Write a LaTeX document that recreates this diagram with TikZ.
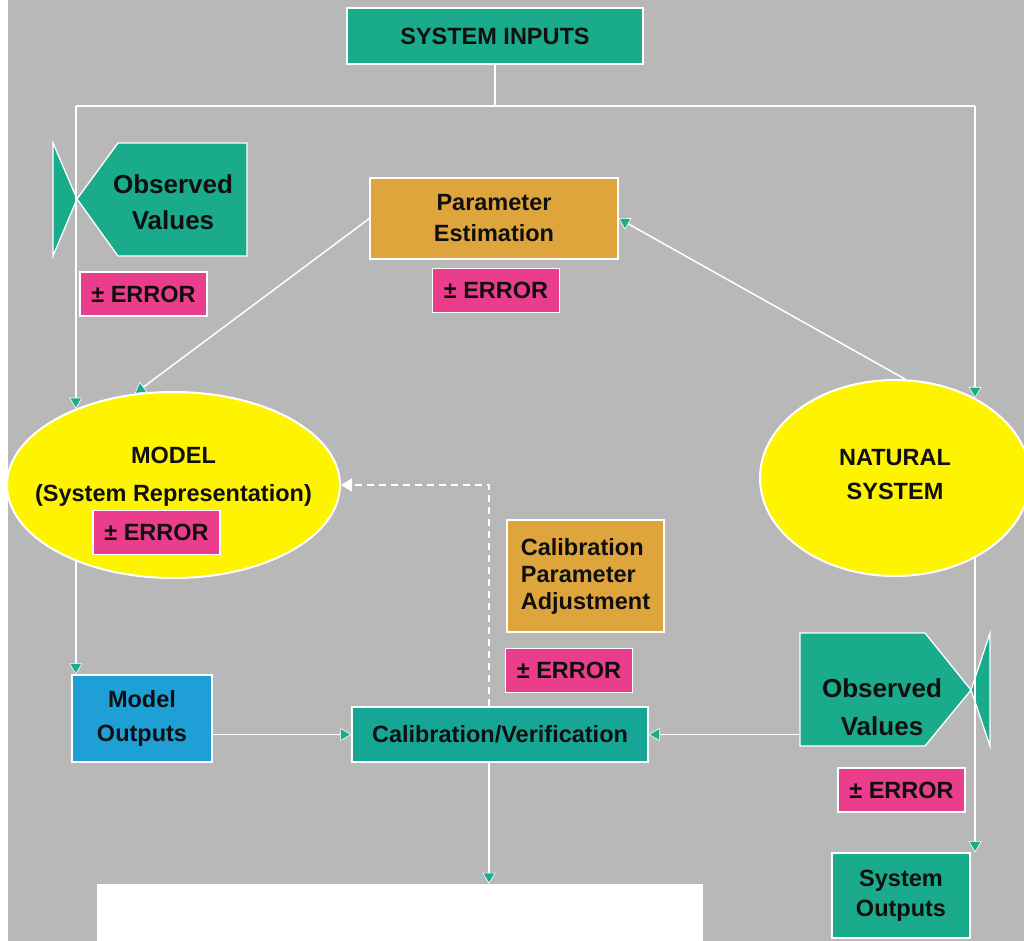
\documentclass[tikz,border=0pt]{standalone}
\usepackage{fontspec}
\setmainfont{Liberation Sans}
\usetikzlibrary{arrows.meta,shapes.geometric,calc}
\definecolor{bgc}{RGB}{184,184,184}
\definecolor{tealc}{RGB}{26,170,140}
\definecolor{calteal}{RGB}{22,166,150}
\definecolor{orangec}{RGB}{221,165,60}
\definecolor{pinkc}{RGB}{234,62,140}
\definecolor{bluec}{RGB}{30,160,215}
\definecolor{yellowc}{RGB}{255,244,0}
\definecolor{txtc}{RGB}{15,15,15}
\newcommand{\fs}[2]{\fontsize{#1}{#2}\selectfont\bfseries}
\begin{document}
\begin{tikzpicture}[x=1pt,y=-1pt,
  box/.style={draw=white, line width=1.3pt, inner sep=0pt, align=center, text=txtc, font=\fs{23.5}{30}},
  err/.style={box, fill=pinkc, minimum width=127pt, minimum height=44pt},
  ell/.style={ellipse, draw=white, line width=2pt, fill=yellowc, inner sep=0pt},
  lbl/.style={align=center, text=txtc, inner sep=0pt},
  wire/.style={draw=white, line width=1.5pt},
  shp/.style={fill=tealc, draw=white, line width=1.3pt, line join=miter},
  arr/.style={wire, -{Triangle[width=13pt,length=11pt,fill=tealc,color=white,line width=0.6pt]}},
  darr/.style={wire, dash pattern=on 7pt off 5pt, -{Triangle[width=13pt,length=11pt,fill=white,color=white]}}
]
\useasboundingbox (0,0) rectangle (1024,941);
\fill[white] (0,0) rectangle (1024,941);
\fill[bgc] (8,0) rectangle (1024,941);

% nodes
\node[box, fill=tealc, minimum width=296pt, minimum height=56pt] (sysin) at (495,36) {SYSTEM INPUTS};
\node[ell, minimum width=333pt, minimum height=186pt] (model) at (173.5,485) {};
\node[ell, minimum width=270pt, minimum height=196pt] (natural) at (895,478) {};
\node[lbl, font=\fs{23.5}{38}] (modelt) at (173.5,477) {MODEL\\(System Representation)};
\node[err] (errM) at (156.5,532.5) {± ERROR};
\node[lbl, font=\fs{23.5}{34}] (natt) at (895,475) {NATURAL\\SYSTEM};

\node[box, fill=orangec, minimum width=248pt, minimum height=81pt, font=\fs{23.5}{31}] (pe) at (494,218.5) {Parameter\\Estimation};
\node[err] (errPE) at (496,290.5) {± ERROR};

% observed values left
\draw[shp] (53,143) -- (77,199) -- (53,256) -- cycle;
\draw[shp] (77,199) -- (118,143) -- (247,143) -- (247,256) -- (118,256) -- cycle;
\node[lbl, font=\fs{26}{36}] (obsL) at (173,202) {Observed\\Values};
\node[err] (errL) at (143.5,294) {± ERROR};

% observed values right
\draw[shp] (800,633) -- (925,633) -- (971,690) -- (925,746) -- (800,746) -- cycle;
\draw[shp] (971,690) -- (990,633) -- (990,746) -- cycle;
\node[lbl, font=\fs{26}{38}] (obsR) at (882,707) {Observed\\Values};
\node[err] (errR) at (901.5,790) {± ERROR};
\coordinate (obsRw) at (800,690);

\node[box, fill=orangec, minimum width=157pt, minimum height=112pt, align=left, font=\fs{23.5}{27}] (cpa) at (585.5,576) {Calibration\\Parameter\\Adjustment};
\node[err] (errC) at (569,670.5) {± ERROR};

\node[box, fill=calteal, minimum width=296pt, minimum height=55pt] (cal) at (500,734.5) {Calibration/Verification};
\node[box, fill=bluec, minimum width=140pt, minimum height=87pt, font=\fs{23.5}{34}] (mout) at (142,718.5) {Model\\Outputs};
\node[box, fill=tealc, minimum width=138pt, minimum height=85pt, font=\fs{23.5}{30}] (sysout) at (901,895.5) {System\\Outputs};
\node[fill=white, minimum width=606pt, minimum height=60pt, inner sep=0pt] (outbox) at (400,914) {};

% connectors
\coordinate (bus) at (495,106);
\coordinate (cx) at (489,0);
\draw[wire] (sysin.south) -- (bus);
\draw[wire] (model.142 |- bus) -- (natural.45 |- bus);
\draw[arr] (model.142 |- bus) -- (model.142);
\draw[arr] (natural.45 |- bus) -- (natural.45);
\draw[arr] (pe.west) -- (model.113);
\draw[arr] (natural.84) -- (pe.east);
\draw[arr] (model.218) -- (model.218 |- mout.north);
\draw[arr] (natural.-45) -- (natural.-45 |- sysout.north);
\draw[arr] (mout.east |- cal.west) -- (cal.west);
\draw[arr] (obsRw |- cal.east) -- (cal.east);
\draw[arr] (cx |- cal.south) -- (cx |- outbox.north);
\draw[darr] (cx |- cal.north) -- (cx |- model.east) -- (model.east);
\end{tikzpicture}
\end{document}
